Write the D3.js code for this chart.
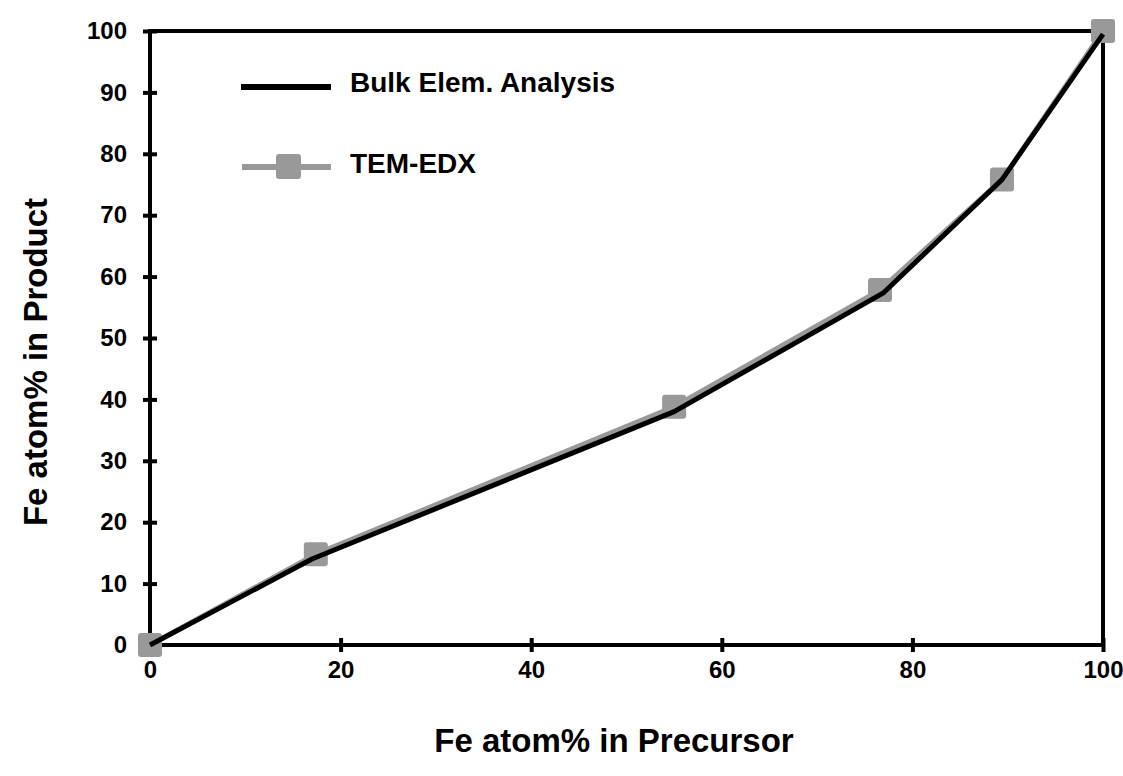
<!DOCTYPE html>
<html>
<head>
<meta charset="utf-8">
<script src="https://cdn.jsdelivr.net/npm/d3@7"></script>
<style>
  body { margin: 0; background: #fff; }
  text { font-family: "Liberation Sans", Arial, sans-serif; font-weight: bold; }
</style>
</head>
<body>
<div id="chart"></div>
<script>
const precursor = [0, 17.4, 55, 76.6, 89.4, 100]
const temEdx = [0, 14.8, 38.8, 57.8, 75.8, 100]
const bulkPrecursor = [0, 17, 55, 77, 89.4, 100]
const bulk = [0, 14, 38, 57.4, 75.8, 99.5]
const xTicks = [0, 20, 40, 60, 80, 100]
const yTicks = [0, 10, 20, 30, 40, 50, 60, 70, 80, 90, 100]

const width = 1123
const height = 776
const margin = { top: 31, left: 150, right: 20, bottom: 131 }

const svg = d3
  .select('#chart')
  .append('svg')
  .attr('width', width)
  .attr('height', height)

const x = d3.scaleLinear().domain([0, 100]).range([margin.left, 1103])
const y = d3.scaleLinear().domain([0, 100]).range([height - margin.bottom, margin.top])

const gray = '#999999'

// frame (top + right)
svg.append('line')
  .attr('x1', x(0)).attr('x2', x(100))
  .attr('y1', y(100)).attr('y2', y(100))
  .attr('stroke', '#000').attr('stroke-width', 4)
svg.append('line')
  .attr('x1', x(100)).attr('x2', x(100))
  .attr('y1', y(100) - 2).attr('y2', y(0))
  .attr('stroke', '#000').attr('stroke-width', 4)

// axes with ticks crossing the line
const xAxis = svg.append('g')
  .attr('transform', `translate(0,${y(0)})`)
  .call(d3.axisBottom(x).tickValues(xTicks).tickSize(0).tickPadding(16).tickFormat(d3.format('d')))
xAxis.select('.domain').attr('stroke-width', 4).attr('d', `M${x(0) - 2},0H${x(100) + 2}`)
xAxis.selectAll('.tick').append('line')
  .attr('y1', -7).attr('y2', 7).attr('stroke', '#000').attr('stroke-width', 4)
xAxis.selectAll('.tick text').attr('font-size', 24).attr('fill', '#000')

const yAxis = svg.append('g')
  .attr('transform', `translate(${x(0)},0)`)
  .call(d3.axisLeft(y).tickValues(yTicks).tickSize(0).tickPadding(23).tickFormat(d3.format('d')))
yAxis.select('.domain').attr('stroke-width', 4).attr('d', `M0,${y(100) - 2}V${y(0) + 2}`)
yAxis.selectAll('.tick').append('line')
  .attr('x1', -7).attr('x2', 7).attr('stroke', '#000').attr('stroke-width', 4)
yAxis.selectAll('.tick text').attr('font-size', 24).attr('fill', '#000')

// axis titles
svg.append('text')
  .attr('x', 614)
  .attr('y', 752)
  .attr('text-anchor', 'middle')
  .attr('font-size', 33)
  .text('Fe atom% in Precursor')

svg.append('text')
  .attr('transform', 'translate(47,362) rotate(-90)')
  .attr('text-anchor', 'middle')
  .attr('font-size', 33)
  .text('Fe atom% in Product')

// TEM-EDX series
const temData = precursor.map((p, i) => ({ x: p, y: temEdx[i] }))
const bulkData = bulkPrecursor.map((p, i) => ({ x: p, y: bulk[i] }))

const line = d3.line().x(d => x(d.x)).y(d => y(d.y))

svg.append('path')
  .datum(temData)
  .attr('d', line)
  .attr('fill', 'none')
  .attr('stroke', gray)
  .attr('stroke-width', 5)
  .attr('stroke-linejoin', 'round')

svg.selectAll('.marker')
  .data(temData)
  .enter()
  .append('rect')
  .attr('class', 'marker')
  .attr('x', d => x(d.x) - 12)
  .attr('y', d => y(d.y) - 12)
  .attr('width', 24)
  .attr('height', 24)
  .attr('rx', 3)
  .attr('fill', gray)

svg.append('path')
  .datum(bulkData)
  .attr('d', line)
  .attr('fill', 'none')
  .attr('stroke', '#000')
  .attr('stroke-width', 5)
  .attr('stroke-linejoin', 'round')

// legend
const legend = svg.append('g')
legend.append('line')
  .attr('x1', 241).attr('x2', 331).attr('y1', 87).attr('y2', 87)
  .attr('stroke', '#000').attr('stroke-width', 6)
legend.append('text')
  .attr('x', 350).attr('y', 92)
  .attr('font-size', 28)
  .text('Bulk Elem. Analysis')

legend.append('line')
  .attr('x1', 242).attr('x2', 331).attr('y1', 167).attr('y2', 167)
  .attr('stroke', gray).attr('stroke-width', 6)
legend.append('rect')
  .attr('x', 276).attr('y', 154).attr('width', 25).attr('height', 25)
  .attr('rx', 3).attr('fill', gray)
legend.append('text')
  .attr('x', 350).attr('y', 173)
  .attr('font-size', 28)
  .text('TEM-EDX')
</script>
</body>
</html>
